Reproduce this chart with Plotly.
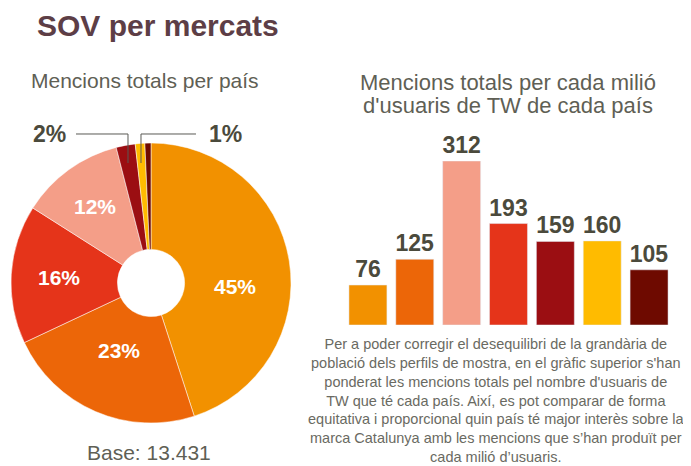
import plotly.graph_objects as go

FONT = "Liberation Sans, Arial, sans-serif"
TEXT_DARK = "#4b4a3c"
TEXT_GREY = "#5f5f55"

# pie: share of mentions per country
pie_values = [45.0, 23.0, 16.0, 12.0, 2.2, 1.1, 0.7]
pie_labels = ["45%", "23%", "16%", "12%"]
pie_colors = ["#f29100", "#ec6608", "#e5341a", "#f49e88", "#9b0e12", "#ffbb00", "#6e0a00"]

# bars: mentions per million TW users
bar_cats = ["A", "B", "C", "D", "E", "F", "G"]
bar_values = [76, 125, 312, 193, 159, 160, 105]
bar_colors = ["#f29100", "#ec6608", "#f49e88", "#e5341a", "#9b0e12", "#ffbb00", "#6e0a00"]

OFF = 8  # page body margin
W, H = 691 - OFF, 466 - OFF


def px_x(x):
    return (x - OFF) / W


def px_y(y):
    return 1 - (y - OFF) / H


fig = go.Figure()

fig.add_trace(go.Pie(
    values=pie_values, textinfo="none",
    sort=False, direction="clockwise", rotation=0, hole=0.24,
    marker=dict(colors=pie_colors, line=dict(color="white", width=0.5)),
    domain=dict(x=[px_x(11), px_x(291)], y=[px_y(423), px_y(143)]),
    showlegend=False, hoverinfo="skip",
))

fig.add_trace(go.Bar(
    x=bar_cats, y=bar_values, marker_color=bar_colors,
    text=bar_values, textposition="outside", cliponaxis=False,
    constraintext="none",
    textfont=dict(family=FONT, size=23, color=TEXT_DARK, weight="bold"),
    xaxis="x", yaxis="y", showlegend=False, hoverinfo="skip",
))

fig.update_layout(
    width=W, height=H, margin=dict(l=0, r=0, t=0, b=0),
    paper_bgcolor="white", plot_bgcolor="white",
    bargap=0.19,
    xaxis=dict(domain=[px_x(344.5), px_x(672.5)], visible=False),
    yaxis=dict(domain=[px_y(325), px_y(161)], range=[0, 312], visible=False),
    font=dict(family=FONT),
)

# label spots inside the big slices
pie_label_pos = [(235, 286), (119, 350), (59, 277), (95, 207)]

annotations = [
    dict(x=px_x(158), y=px_y(25), text="<b>SOV per mercats</b>",
         font=dict(size=30, color="#5d3e46")),
    dict(x=px_x(145), y=px_y(80), text="Mencions totals per país",
         font=dict(size=21, color=TEXT_GREY)),
    dict(x=px_x(508), y=px_y(82), text="Mencions totals per cada milió",
         font=dict(size=22, color=TEXT_GREY)),
    dict(x=px_x(508), y=px_y(105), text="d'usuaris de TW de cada país",
         font=dict(size=22, color=TEXT_GREY)),
    dict(x=px_x(149), y=px_y(452), text="Base: 13.431",
         font=dict(size=21, color=TEXT_GREY)),
    dict(x=px_x(49), y=px_y(134), text="<b>2%</b>",
         font=dict(size=23, color=TEXT_DARK)),
    dict(x=px_x(225), y=px_y(134), text="<b>1%</b>",
         font=dict(size=23, color=TEXT_DARK)),
    dict(x=px_x(496), y=px_y(400),
         text="Per a poder corregir el desequilibri de la grandària de<br>"
              "població dels perfils de mostra, en el gràfic superior s'han<br>"
              "ponderat les mencions totals pel nombre d'usuaris de<br>"
              "TW que té cada país. Així, es pot comparar de forma<br>"
              "equitativa i proporcional quin país té major interès sobre la<br>"
              "marca Catalunya amb les mencions que s’han produït per<br>"
              "cada milió d’usuaris.",
         font=dict(size=14.5, color="#6a6a62")),
]
for lbl, (lx, ly) in zip(pie_labels, pie_label_pos):
    annotations.append(dict(x=px_x(lx), y=px_y(ly), text="<b>%s</b>" % lbl,
                            font=dict(size=21, color="white")))
for a in annotations:
    a.update(xref="paper", yref="paper", showarrow=False, xanchor="center", yanchor="middle")
fig.update_layout(annotations=annotations)

# leader lines for the two small slices
for path in ["M %f %f L %f %f L %f %f" % (px_x(76), px_y(134), px_x(128), px_y(134), px_x(128), px_y(163)),
             "M %f %f L %f %f L %f %f" % (px_x(196), px_y(134), px_x(141), px_y(134), px_x(141), px_y(163))]:
    fig.add_shape(type="path", path=path, xref="paper", yref="paper",
                  line=dict(color="#5a5a55", width=1))

fig.write_html("out.html")
